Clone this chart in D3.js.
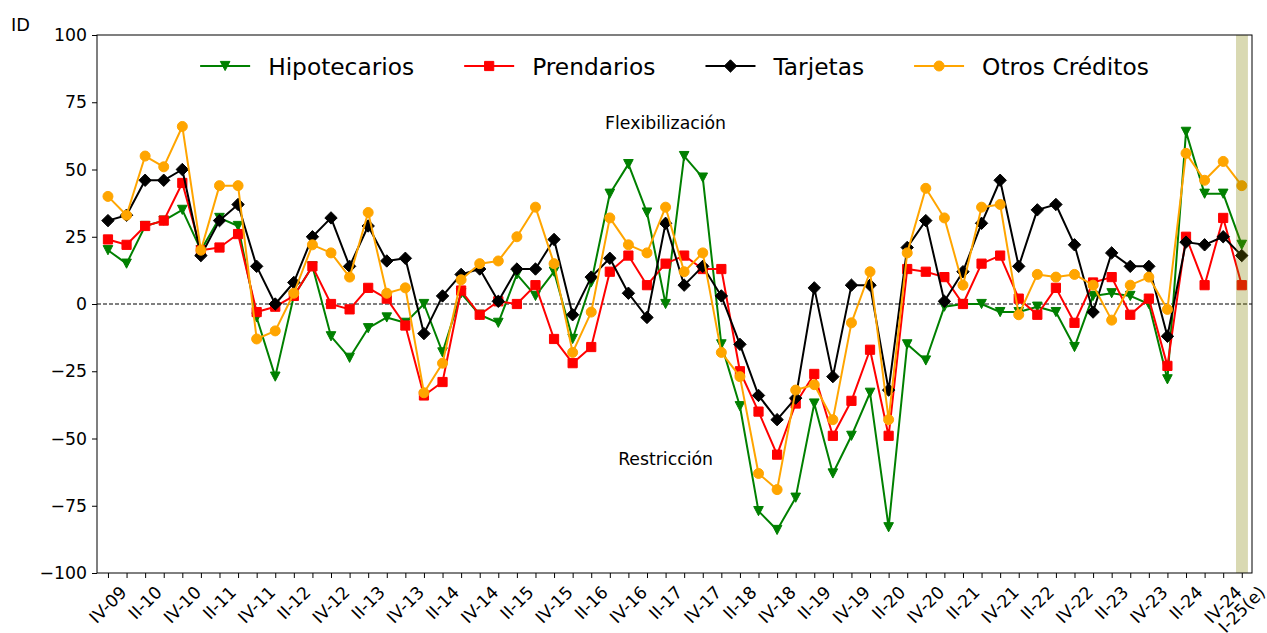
<!DOCTYPE html>
<html>
<head>
<meta charset="utf-8">
<script src="https://cdn.jsdelivr.net/npm/d3@7"></script>
<style>
  body { margin: 0; background: #fff; }
  text { font-family: "DejaVu Sans", sans-serif; fill: #000; }
</style>
</head>
<body>
<svg id="chart" width="1267" height="633"></svg>
<script>
// quarters, IV-09 .. I-25 (estimate)
const quarters = [
  "IV-09",
  "I-10", "II-10", "III-10", "IV-10",
  "I-11", "II-11", "III-11", "IV-11",
  "I-12", "II-12", "III-12", "IV-12",
  "I-13", "II-13", "III-13", "IV-13",
  "I-14", "II-14", "III-14", "IV-14",
  "I-15", "II-15", "III-15", "IV-15",
  "I-16", "II-16", "III-16", "IV-16",
  "I-17", "II-17", "III-17", "IV-17",
  "I-18", "II-18", "III-18", "IV-18",
  "I-19", "II-19", "III-19", "IV-19",
  "I-20", "II-20", "III-20", "IV-20",
  "I-21", "II-21", "III-21", "IV-21",
  "I-22", "II-22", "III-22", "IV-22",
  "I-23", "II-23", "III-23", "IV-23",
  "I-24", "II-24", "III-24", "IV-24",
  "I-25(e)"
];

const hipotecarios = [20, 15, 29, 31, 35, 20, 32, 29, -5, -27,
  3, 14, -12, -20, -9, -5, -7, 0, -18, 4,
  -4, -7, 11, 3, 12, -13, 8, 41, 52, 34,
  0, 55, 47, -15, -38, -77, -84, -72, -37, -63,
  -49, -33, -83, -15, -21, -1, 0, 0, -3, -3,
  -1, -3, -16, 3, 4, 3, 0, -28, 64, 41,
  41, 22];

const prendarios = [24, 22, 29, 31, 45, 20, 21, 26, -3, -1,
  3, 14, 0, -2, 6, 2, -8, -34, -29, 5,
  -4, 1, 0, 7, -13, -22, -16, 12, 18, 7,
  15, 18, 13, 13, -25, -40, -56, -37, -26, -49,
  -36, -17, -49, 13, 12, 10, 0, 15, 18, 2,
  -4, 6, -7, 8, 10, -4, 2, -23, 25, 7,
  32, 7];

const tarjetas = [31, 33, 46, 46, 50, 18, 31, 37, 14, 0,
  8, 25, 32, 14, 29, 16, 17, -11, 3, 11,
  13, 1, 13, 13, 24, -4, 10, 17, 4, -5,
  30, 7, 14, 3, -15, -34, -43, -35, 6, -27,
  7, 7, -32, 21, 31, 1, 12, 30, 46, 14,
  35, 37, 22, -3, 19, 14, 14, -12, 23, 22,
  25, 18];

const otros = [40, 33, 55, 51, 66, 20, 44, 44, -13, -10,
  4, 22, 19, 10, 34, 4, 6, -33, -22, 9,
  15, 16, 25, 36, 15, -18, -3, 32, 22, 19,
  36, 12, 19, -18, -27, -63, -69, -32, -30, -43,
  -7, 12, -43, 19, 43, 32, 7, 36, 37, -4,
  11, 10, 11, 7, -6, 7, 10, -2, 56, 46,
  53, 44];

const yTicks = [-100, -75, -50, -25, 0, 25, 50, 75, 100];

const series = [
  { name: "Hipotecarios", values: hipotecarios, color: "green", marker: "tri" },
  { name: "Prendarios", values: prendarios, color: "red", marker: "square" },
  { name: "Tarjetas", values: tarjetas, color: "black", marker: "diamond" },
  { name: "Otros Créditos", values: otros, color: "orange", marker: "circle" }
];

const svg = d3.select("#chart");
const plotL = 97, plotR = 1252, plotT = 35, plotB = 573;

const x = d3.scaleLinear().domain([-0.59, 61.55]).range([plotL, plotR]);
const y = d3.scaleLinear().domain([-100, 100]).range([plotB, plotT]);

// marker paths
function markerPath(type) {
  if (type === "tri") return "M-4.8,-4.6L4.8,-4.6L0,4.6Z";
  if (type === "square") return "M-4.6,-4.6H4.6V4.6H-4.6Z";
  if (type === "diamond") return "M0,-6.2L6.2,0L0,6.2L-6.2,0Z";
  return d3.symbol(d3.symbolCircle, Math.PI * 5 * 5)();
}

// zero line
svg.append("line")
  .attr("x1", plotL).attr("x2", plotR)
  .attr("y1", y(0)).attr("y2", y(0))
  .attr("stroke", "#000").attr("stroke-width", 1)
  .attr("stroke-dasharray", "4,2");

const line = d3.line().x((d, i) => x(i)).y(d => y(d));

series.forEach(s => {
  const g = svg.append("g");
  g.append("path")
    .attr("d", line(s.values))
    .attr("fill", "none")
    .attr("stroke", s.color)
    .attr("stroke-width", 2)
    .attr("stroke-linejoin", "round");
  g.selectAll("path.m")
    .data(s.values)
    .join("path")
    .attr("class", "m")
    .attr("d", markerPath(s.marker))
    .attr("transform", (d, i) => `translate(${x(i)},${y(d)})`)
    .attr("fill", s.color)
    .attr("stroke", s.color)
    .attr("stroke-width", 1);
});

// estimate band over last quarter
svg.append("rect")
  .attr("x", x(60.69))
  .attr("width", x(61.33) - x(60.69))
  .attr("y", plotT)
  .attr("height", plotB - plotT)
  .attr("fill", "olive")
  .attr("opacity", 0.3);

// annotations
svg.append("text")
  .attr("x", x(30)).attr("y", y(65))
  .attr("text-anchor", "middle")
  .attr("font-size", 17.3)
  .text("Flexibilización");
svg.append("text")
  .attr("x", x(30)).attr("y", y(-60))
  .attr("text-anchor", "middle")
  .attr("font-size", 17.3)
  .text("Restricción");

// y axis
const yAxis = svg.append("g")
  .attr("transform", `translate(${plotL},0)`)
  .call(d3.axisLeft(y).tickValues(yTicks).tickSize(5).tickPadding(5)
    .tickFormat(d => d < 0 ? "\u2212" + Math.abs(d) : d));
yAxis.select(".domain").remove();
yAxis.selectAll("text").attr("font-size", 17.3).attr("font-family", "DejaVu Sans");
yAxis.selectAll("line").attr("stroke", "#000");

// x axis: tick every quarter, label every second one and the last
const xAxis = svg.append("g")
  .attr("transform", `translate(0,${plotB})`)
  .call(d3.axisBottom(x).tickValues(d3.range(quarters.length)).tickSize(5).tickFormat(""));
xAxis.select(".domain").remove();
xAxis.selectAll("line").attr("stroke", "#000");

const fs = 17.3;
quarters.forEach((q, i) => {
  if (i % 2 !== 0 && i !== quarters.length - 1) return;
  const t = svg.append("text")
    .attr("font-size", fs)
    .attr("text-anchor", "middle")
    .attr("dominant-baseline", "central")
    .text(q);
  const w = t.node().getComputedTextLength();
  const half = (w + fs) * Math.SQRT1_2 / 2;
  t.attr("transform", `translate(${x(i)},${plotB + 10 + half}) rotate(-45)`);
});

// frame
svg.append("rect")
  .attr("x", plotL).attr("y", plotT)
  .attr("width", plotR - plotL).attr("height", plotB - plotT)
  .attr("fill", "none").attr("stroke", "#000").attr("stroke-width", 1);

// y label
svg.append("text")
  .attr("x", 11).attr("y", 31)
  .attr("font-size", 17.8)
  .text("ID");

// legend
const lfs = 23.3;
const lg = svg.append("g");
const items = series.map(s => {
  const t = lg.append("text").attr("font-size", lfs).text(s.name);
  return { s, t, w: t.node().getComputedTextLength() };
});
const handleLen = 50, textPad = 18, colGap = 50;
const total = d3.sum(items, d => handleLen + textPad + d.w) + colGap * (items.length - 1);
let cx = (plotL + plotR) / 2 - total / 2;
const ly = 66;
items.forEach(d => {
  lg.append("line")
    .attr("x1", cx).attr("x2", cx + handleLen)
    .attr("y1", ly).attr("y2", ly)
    .attr("stroke", d.s.color).attr("stroke-width", 2);
  lg.append("path")
    .attr("d", markerPath(d.s.marker))
    .attr("transform", `translate(${cx + handleLen / 2},${ly})`)
    .attr("fill", d.s.color).attr("stroke", d.s.color);
  d.t.attr("x", cx + handleLen + textPad).attr("y", ly + 8.5);
  cx += handleLen + textPad + d.w + colGap;
});
</script>
</body>
</html>
